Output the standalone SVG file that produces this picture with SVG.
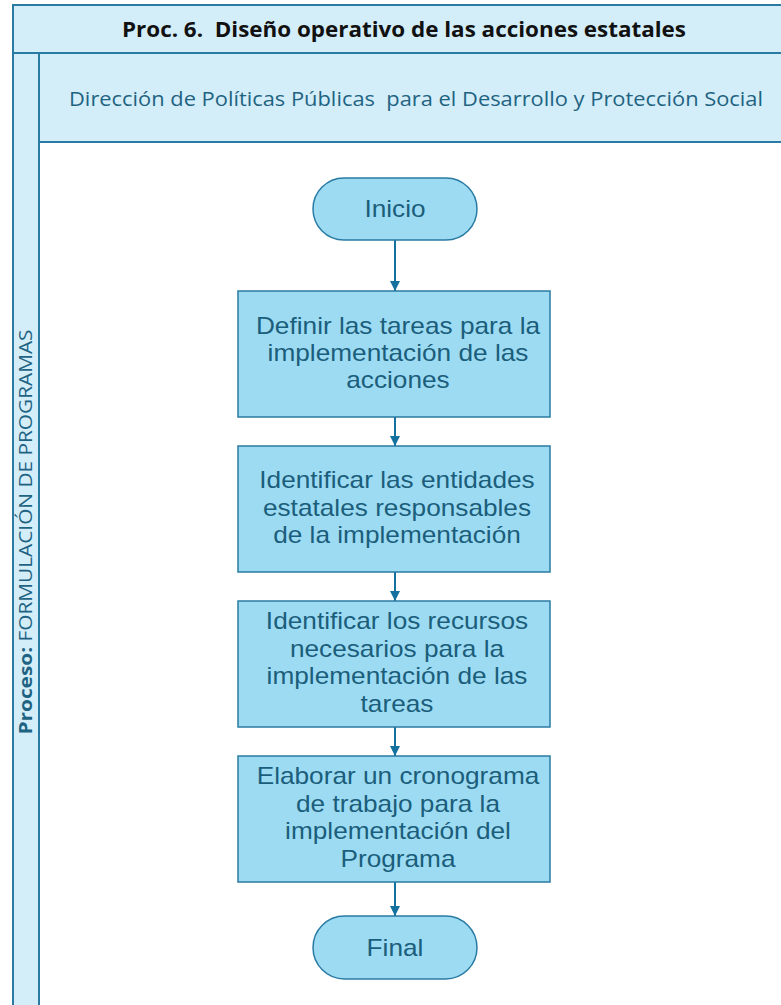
<svg xmlns="http://www.w3.org/2000/svg" width="781" height="1005" viewBox="0 0 781 1005">
<defs>
<style>
.lane{fill:#D4EEF9;stroke:#2A7BA3;stroke-width:2}
.node{fill:#9DDBF3;stroke:#2A7BA3;stroke-width:1.5}
.nt{font-family:"Liberation Sans",Arial,sans-serif;font-size:23px;fill:#1B5E7B;text-anchor:middle}
.conn{stroke:#13709F;stroke-width:2;fill:none;marker-end:url(#ah)}
</style>
<marker id="ah" viewBox="0 0 10 10" refX="10" refY="5" markerWidth="10" markerHeight="10" markerUnits="userSpaceOnUse" orient="auto">
<path d="M0,0 L10,5 L0,10 z" fill="#13709F"/>
</marker>
</defs>
<rect width="781" height="1005" fill="#ffffff"/>
<g id="pool">
<rect class="lane" x="13" y="5" width="770" height="48"/>
<rect class="lane" x="13" y="53" width="26" height="954"/>
<rect class="lane" x="39" y="53" width="744" height="89"/>
<text x="404" y="37" font-family="'Open Sans',sans-serif" font-weight="bold" font-size="22" fill="#111" text-anchor="middle" textLength="564" lengthAdjust="spacingAndGlyphs" xml:space="preserve">Proc. 6.  Diseño operativo de las acciones estatales</text>
<text x="416" y="106" font-family="'Open Sans',sans-serif" font-size="20" fill="#1F6382" text-anchor="middle" textLength="694" lengthAdjust="spacingAndGlyphs" xml:space="preserve">Dirección de Políticas Públicas  para el Desarrollo y Protección Social</text>
<text transform="translate(32,532) rotate(-90)" font-family="'Open Sans',sans-serif" font-size="18" fill="#1F6382" text-anchor="middle" textLength="405" lengthAdjust="spacingAndGlyphs"><tspan font-weight="bold">Proceso:</tspan> FORMULACIÓN DE PROGRAMAS</text>
</g>
<g id="connectors">
<line class="conn" x1="395" y1="240" x2="395" y2="291"/>
<line class="conn" x1="395" y1="417" x2="395" y2="446"/>
<line class="conn" x1="395" y1="572" x2="395" y2="601"/>
<line class="conn" x1="395" y1="727" x2="395" y2="756"/>
<line class="conn" x1="395" y1="882" x2="395" y2="916"/>
</g>
<g id="inicio">
<rect class="node" x="313" y="178" width="164" height="62" rx="31"/>
<g transform="translate(395,0) scale(1.14,1) translate(-395,0)"><text class="nt" x="395" y="217">Inicio</text></g>
</g>
<g id="n1">
<rect class="node" x="238" y="291" width="312" height="126"/>
<g transform="translate(398,0) scale(1.14,1) translate(-398,0)">
<text class="nt" x="398" y="334">Definir las tareas para la</text>
<text class="nt" x="398" y="361">implementación de las</text>
<text class="nt" x="398" y="388">acciones</text>
</g>
</g>
<g id="n2">
<rect class="node" x="238" y="446" width="312" height="126"/>
<g transform="translate(397,0) scale(1.14,1) translate(-397,0)">
<text class="nt" x="397" y="488">Identificar las entidades</text>
<text class="nt" x="397" y="516">estatales responsables</text>
<text class="nt" x="397" y="543">de la implementación</text>
</g>
</g>
<g id="n3">
<rect class="node" x="238" y="601" width="312" height="126"/>
<g transform="translate(397,0) scale(1.14,1) translate(-397,0)">
<text class="nt" x="397" y="629">Identificar los recursos</text>
<text class="nt" x="397" y="657">necesarios para la</text>
<text class="nt" x="397" y="684">implementación de las</text>
<text class="nt" x="397" y="712">tareas</text>
</g>
</g>
<g id="n4">
<rect class="node" x="238" y="756" width="312" height="126"/>
<g transform="translate(398,0) scale(1.14,1) translate(-398,0)">
<text class="nt" x="398" y="784">Elaborar un cronograma</text>
<text class="nt" x="398" y="812">de trabajo para la</text>
<text class="nt" x="398" y="839">implementación del</text>
<text class="nt" x="398" y="867">Programa</text>
</g>
</g>
<g id="final">
<rect class="node" x="313" y="916" width="164" height="63" rx="31.5"/>
<g transform="translate(395,0) scale(1.14,1) translate(-395,0)"><text class="nt" x="395" y="956">Final</text></g>
</g>
</svg>
